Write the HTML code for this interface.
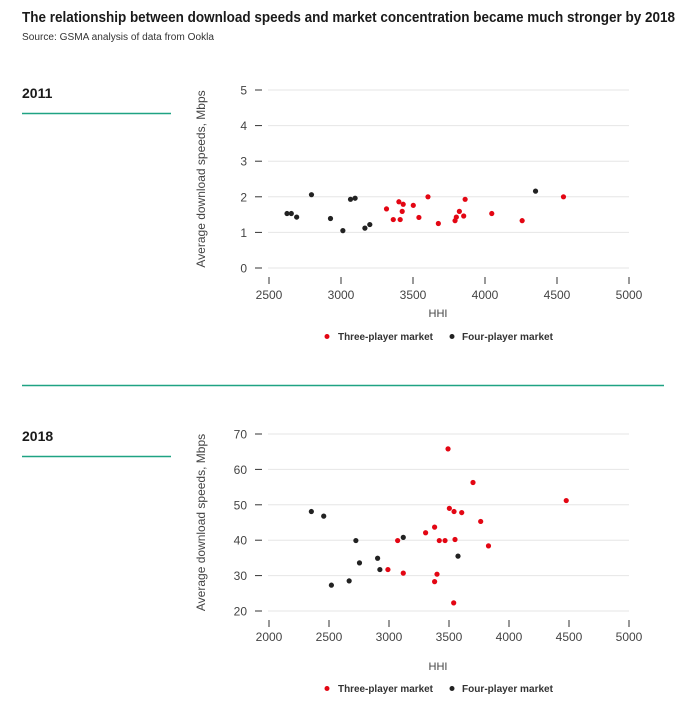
<!DOCTYPE html>
<html><head><meta charset="utf-8"><style>
body{margin:0;background:#fff;width:700px;height:726px;overflow:hidden}
svg{display:block;font-family:"Liberation Sans",sans-serif}
</style></head><body>
<svg id="s" width="700" height="726" viewBox="0 0 700 726">
<text x="22" y="22" font-size="15" font-weight="bold" fill="#1a1a1a" textLength="653" lengthAdjust="spacingAndGlyphs">The relationship between download speeds and market concentration became much stronger by 2018</text>
<text x="22" y="40" font-size="10" fill="#333" textLength="192" lengthAdjust="spacingAndGlyphs">Source: GSMA analysis of data from Ookla</text>
<text x="22" y="98" font-size="14" font-weight="bold" fill="#1a1a1a">2011</text>
<line x1="22" y1="113.5" x2="171" y2="113.5" stroke="#1fa383" stroke-width="1.5"/>
<line x1="22" y1="385.5" x2="664" y2="385.5" stroke="#1fa383" stroke-width="1.5"/>
<text x="22" y="441" font-size="14" font-weight="bold" fill="#1a1a1a">2018</text>
<line x1="22" y1="456.5" x2="171" y2="456.5" stroke="#1fa383" stroke-width="1.5"/>
<g id="c1"></g>
<g id="c2"></g>
</svg>
<script>
// 2011 data
const x3_2011=[3316,3363,3402,3411,3425,3432,3502,3541,3604,3676,3792,3801,3822,3852,3862,4047,4258,4545];
const y3_2011=[1.66,1.36,1.86,1.36,1.59,1.79,1.76,1.42,2.0,1.25,1.33,1.43,1.59,1.46,1.93,1.53,1.33,2.0];
const x4_2011=[2625,2655,2692,2795,2927,3013,3066,3098,3166,3200,4351];
const y4_2011=[1.53,1.53,1.43,2.06,1.39,1.05,1.93,1.96,1.12,1.22,2.16];
const xt_2011=[2500,3000,3500,4000,4500,5000];
const yt_2011=[0,1,2,3,4,5];
// 2018 data
const x3_2018=[2991,3072,3119,3305,3380,3380,3400,3419,3467,3492,3503,3539,3542,3550,3606,3700,3764,3829,4477];
const y3_2018=[31.7,39.9,30.7,42.1,43.7,28.3,30.4,39.9,39.9,65.8,49.0,22.3,48.1,40.2,47.8,56.3,45.3,38.4,51.2];
const x4_2018=[2353,2456,2520,2668,2724,2754,2905,2924,3119,3575];
const y4_2018=[48.1,46.8,27.3,28.5,39.9,33.6,34.9,31.7,40.8,35.5];
const xt_2018=[2000,2500,3000,3500,4000,4500,5000];
const yt_2018=[20,30,40,50,60,70];

const NS="http://www.w3.org/2000/svg";
function mk(p,t,a){const e=document.createElementNS(NS,t);for(const k in a)e.setAttribute(k,a[k]);p.appendChild(e);return e;}
function draw(g,cfg){
  const sx=v=>269+(v-cfg.xt[0])/(cfg.xt[cfg.xt.length-1]-cfg.xt[0])*360;
  const sy=v=>cfg.y0+(v-cfg.yt[0])/(cfg.yt[cfg.yt.length-1]-cfg.yt[0])*(cfg.y1-cfg.y0);
  cfg.yt.forEach(v=>{
    const y=sy(v);
    const gl=mk(g,'line',{x1:268,x2:629,y1:y,y2:y,stroke:'#e6e6e6','stroke-width':1});
    
    
    const tk=mk(g,'line',{x1:255,x2:262,y1:y,y2:y,stroke:'#333','stroke-width':1});
    
    
    const t=mk(g,'text',{x:247,y:y+4.5,'font-size':12,fill:'#444','text-anchor':'end'});
    t.textContent=v;
    
    
  });
  cfg.xt.forEach(v=>{
    const x=sx(v);
    const tk=mk(g,'line',{x1:x,x2:x,y1:cfg.xty,y2:cfg.xty+7,stroke:'#333','stroke-width':1});
    
    
    const t=mk(g,'text',{x:x,y:cfg.xly,'font-size':12,fill:'#444','text-anchor':'middle'});
    t.textContent=v;
    
    
  });
  const xtitle=mk(g,'text',{x:438,y:cfg.hhiy,'font-size':11,fill:'#444','text-anchor':'middle'});
  xtitle.textContent='HHI';
  
  
  const yc=(cfg.y0+cfg.y1)/2;
  const ytitle=mk(g,'text',{x:0,y:0,'font-size':12,fill:'#444','text-anchor':'middle',transform:`translate(205,${yc}) rotate(-90)`});
  ytitle.textContent='Average download speeds, Mbps';
  
  
  cfg.x4.forEach((v,i)=>{
    const c=mk(g,'circle',{cx:sx(v),cy:sy(cfg.y4[i]),r:2.6,fill:'#222'});
    
    
  });
  cfg.x3.forEach((v,i)=>{
    const c=mk(g,'circle',{cx:sx(v),cy:sy(cfg.y3[i]),r:2.6,fill:'#e30613'});
    
    
  });
  const ly=cfg.legy;
  const d1=mk(g,'circle',{cx:327,cy:ly-3.5,r:2.5,fill:'#e30613'});
  
  
  const l1=mk(g,'text',{x:338,y:ly,'font-size':10,'font-weight':'bold',fill:'#333',textLength:95,lengthAdjust:'spacingAndGlyphs'});
  l1.textContent='Three-player market';
  
  
  const d2=mk(g,'circle',{cx:452,cy:ly-3.5,r:2.5,fill:'#222'});
  
  
  const l2=mk(g,'text',{x:462,y:ly,'font-size':10,'font-weight':'bold',fill:'#333',textLength:91,lengthAdjust:'spacingAndGlyphs'});
  l2.textContent='Four-player market';
  
  
}
draw(document.getElementById('c1'),{x3:x3_2011,y3:y3_2011,x4:x4_2011,y4:y4_2011,xt:xt_2011,yt:yt_2011,y0:268,y1:90,xty:277,xly:299,hhiy:317,legy:340});
draw(document.getElementById('c2'),{x3:x3_2018,y3:y3_2018,x4:x4_2018,y4:y4_2018,xt:xt_2018,yt:yt_2018,y0:611,y1:434,xty:620,xly:641,hhiy:670,legy:692});
</script>
</body></html>
